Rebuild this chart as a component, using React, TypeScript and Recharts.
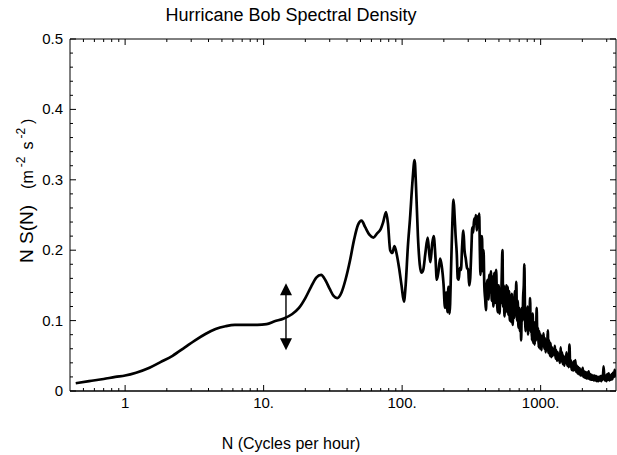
import { LineChart, Line, XAxis, YAxis, ReferenceLine, Customized } from "recharts";

// low-frequency part (smooth)
const lowFreq = [
  0.44, 0.55, 0.7, 0.85, 1, 1.2, 1.5, 1.8, 2.2, 2.7, 3.2, 3.8, 4.5, 5.3, 6.2, 7.5, 9, 10.5, 12, 14,
  16, 18, 20, 22, 24, 26, 28, 30, 32, 34, 36.5, 39, 42, 45, 48, 51, 54, 58, 62, 66,
  70, 73, 76.5, 79, 82, 85, 88, 91, 95, 99,
];
const lowVal = [
  0.011, 0.014, 0.017, 0.02, 0.022, 0.026, 0.033, 0.041, 0.05, 0.062, 0.072, 0.081, 0.088, 0.092, 0.094, 0.094, 0.094, 0.095, 0.099, 0.103,
  0.109, 0.118, 0.132, 0.148, 0.161, 0.165, 0.157, 0.145, 0.135, 0.132, 0.14, 0.158, 0.185, 0.215, 0.236, 0.242, 0.233, 0.222, 0.218, 0.224,
  0.23, 0.24, 0.254, 0.238, 0.2, 0.196, 0.206, 0.196, 0.175, 0.15,
];

// peaks around 100-500 cph
const midFreq = [
  103, 106, 110, 114, 119, 123, 126, 130, 134, 138, 142, 147, 153, 157, 160, 165, 169, 174, 178, 183,
  188, 193, 199, 204, 208, 212, 216, 220, 226, 231, 235, 239, 243, 248, 252, 256, 261, 266, 271, 277,
  282, 288, 294, 300, 305, 310, 316, 321, 326, 331, 336, 341, 346, 351, 356, 360, 364, 368, 372, 377,
  382, 387, 392, 398, 403, 408, 414, 420, 426, 432, 438, 444, 450, 456, 463, 470, 477, 484, 491, 498,
];
const midVal = [
  0.127, 0.15, 0.205, 0.245, 0.3, 0.328, 0.29, 0.22, 0.18, 0.168, 0.172, 0.195, 0.218, 0.195, 0.183, 0.21, 0.22, 0.19, 0.158, 0.17,
  0.188, 0.178, 0.152, 0.118, 0.14, 0.112, 0.148, 0.11, 0.18, 0.245, 0.272, 0.25, 0.222, 0.195, 0.16, 0.158, 0.175, 0.172, 0.205, 0.228,
  0.2, 0.188, 0.175, 0.172, 0.15, 0.16, 0.2, 0.232, 0.225, 0.245, 0.238, 0.25, 0.228, 0.248, 0.235, 0.252, 0.2, 0.165, 0.215, 0.22,
  0.17, 0.2, 0.15, 0.13, 0.115, 0.15, 0.158, 0.13, 0.165, 0.14, 0.17, 0.128, 0.162, 0.12, 0.168, 0.125, 0.172, 0.13, 0.112, 0.15,
];

// noisy high-frequency tail
const highFreq = [
  505, 512, 518, 524, 530, 536, 542, 548, 554, 560, 566, 572, 578, 585, 592, 599, 606, 613, 620, 628,
  636, 644, 652, 660, 667, 675, 683, 692, 700, 709, 717, 723, 731, 740, 748, 756, 763, 770, 778, 787,
  795, 803, 812, 821, 830, 839, 848, 857, 866, 876, 886, 896, 906, 916, 926, 936, 946, 957, 968, 979,
  990, 1002, 1014, 1026, 1038, 1050, 1062, 1074, 1087, 1100, 1113, 1126, 1139, 1152, 1166, 1180, 1194, 1208, 1222, 1237,
  1252, 1267, 1282, 1297, 1313, 1329, 1345, 1361, 1378, 1395, 1412, 1429, 1446, 1464, 1482, 1500, 1518, 1537, 1556, 1575,
  1594, 1614, 1634, 1654, 1674, 1695, 1716, 1737, 1758, 1780, 1802, 1824, 1847, 1870, 1893, 1916, 1940, 1964, 1988, 2013,
  2038, 2063, 2089, 2115, 2141, 2168, 2195, 2222, 2250, 2278, 2306, 2335, 2364, 2393, 2423, 2453, 2484, 2515, 2546, 2578,
  2610, 2642, 2675, 2708, 2742, 2776, 2810, 2845, 2880, 2916, 2952, 2989, 3026, 3064, 3102, 3140, 3179, 3219, 3259, 3299,
  3340, 3381, 3423, 3465, 3500,
];
const highVal = [
  0.11, 0.145, 0.125, 0.165, 0.2, 0.12, 0.15, 0.106, 0.14, 0.112, 0.15, 0.118, 0.148, 0.108, 0.142, 0.1, 0.135, 0.098, 0.138, 0.094,
  0.13, 0.104, 0.142, 0.12, 0.155, 0.1, 0.128, 0.09, 0.118, 0.085, 0.11, 0.072, 0.118, 0.1, 0.135, 0.15, 0.18, 0.12, 0.085, 0.11,
  0.092, 0.12, 0.08, 0.108, 0.095, 0.132, 0.084, 0.1, 0.072, 0.11, 0.068, 0.098, 0.066, 0.092, 0.072, 0.118, 0.075, 0.09, 0.062, 0.085,
  0.06, 0.08, 0.058, 0.078, 0.07, 0.082, 0.06, 0.075, 0.055, 0.07, 0.06, 0.086, 0.054, 0.072, 0.05, 0.068, 0.048, 0.062, 0.05, 0.06,
  0.052, 0.064, 0.046, 0.058, 0.043, 0.055, 0.044, 0.05, 0.04, 0.062, 0.042, 0.055, 0.038, 0.05, 0.036, 0.048, 0.04, 0.055, 0.036, 0.046,
  0.034, 0.066, 0.035, 0.044, 0.03, 0.04, 0.029, 0.042, 0.03, 0.044, 0.027, 0.036, 0.025, 0.034, 0.024, 0.032, 0.022, 0.03, 0.022, 0.033,
  0.02, 0.028, 0.019, 0.027, 0.018, 0.026, 0.018, 0.028, 0.017, 0.024, 0.016, 0.023, 0.016, 0.022, 0.015, 0.022, 0.015, 0.021, 0.014, 0.02,
  0.014, 0.02, 0.015, 0.021, 0.014, 0.022, 0.016, 0.035, 0.02, 0.015, 0.022, 0.014, 0.024, 0.016, 0.025, 0.015, 0.022, 0.016, 0.024, 0.017,
  0.026, 0.02, 0.03, 0.022, 0.028,
];

const xMajor = [1, 10, 100, 1000];
const xMajorLabels = ["1", "10.", "100.", "1000."];
const xMinor = [
  0.5, 0.6, 0.7, 0.8, 0.9, 2, 3, 4, 5, 6, 7, 8, 9, 20, 30, 40, 50, 60, 70, 80, 90,
  200, 300, 400, 500, 600, 700, 800, 900, 2000, 3000,
];
const yMajor = [0, 0.1, 0.2, 0.3, 0.4, 0.5];
const yMajorLabels = ["0", "0.1", "0.2", "0.3", "0.4", "0.5"];
const yMinor = [
  0.02, 0.04, 0.06, 0.08, 0.12, 0.14, 0.16, 0.18, 0.22, 0.24, 0.26, 0.28,
  0.32, 0.34, 0.36, 0.38, 0.42, 0.44, 0.46, 0.48,
];

// double arrow near 14.5 cph
const arrowN = 14.5;
const arrowLow = 0.058;
const arrowHigh = 0.153;

const W = 617;
const H = 455;
const PLOT_TOP = 39;
const PLOT_RIGHT = 616;
const FONT = "'Liberation Sans', Arial, Helvetica, sans-serif";

const freq = [...lowFreq, ...midFreq, ...highFreq];
const nsn = [...lowVal, ...midVal, ...highVal];
const data = freq.map((n, i) => ({ n, s: nsn[i] }));

function XTick(props: any) {
  const { x, y, payload } = props;
  const i = xMajor.indexOf(payload.value);
  const len = i >= 0 ? 6 : 3;
  return (
    <g>
      <line x1={x} y1={y} x2={x} y2={y - len} stroke="#000" strokeWidth={1} />
      <line x1={x} y1={PLOT_TOP} x2={x} y2={PLOT_TOP + len} stroke="#000" strokeWidth={1} />
      {i >= 0 && (
        <text x={x} y={y + 17} textAnchor="middle" fontSize={15} fontFamily={FONT} fill="#000">
          {xMajorLabels[i]}
        </text>
      )}
    </g>
  );
}

function YTick(props: any) {
  const { x, y, payload } = props;
  const i = yMajor.findIndex((v) => Math.abs(v - payload.value) < 1e-6);
  const len = i >= 0 ? 6 : 3;
  return (
    <g>
      <line x1={x} y1={y} x2={x + len} y2={y} stroke="#000" strokeWidth={1} />
      <line x1={PLOT_RIGHT} y1={y} x2={PLOT_RIGHT - len} y2={y} stroke="#000" strokeWidth={1} />
      {i >= 0 && (
        <text x={x - 7} y={y + 5} textAnchor="end" fontSize={15} fontFamily={FONT} fill="#000">
          {yMajorLabels[i]}
        </text>
      )}
    </g>
  );
}

function DoubleArrow(props: any) {
  const { x1, y1, x2, y2 } = props;
  const top = Math.min(y1, y2);
  const bot = Math.max(y1, y2);
  const x = x1;
  return (
    <g>
      <line x1={x} y1={top + 8} x2={x2} y2={bot - 8} stroke="#000" strokeWidth={1.4} />
      <path d={`M${x},${top} L${x - 6},${top + 12} L${x + 6},${top + 12} Z`} fill="#000" />
      <path d={`M${x},${bot} L${x - 6},${bot - 12} L${x + 6},${bot - 12} Z`} fill="#000" />
    </g>
  );
}

function Texts() {
  return (
    <g fontFamily={FONT} fill="#000">
      <text x={291} y={21} textAnchor="middle" fontSize={18}>
        Hurricane Bob Spectral Density
      </text>
      <text x={291} y={449} textAnchor="middle" fontSize={16}>
        N (Cycles per hour)
      </text>
      <text x={33} y={263} transform="rotate(-90, 33, 263)" textAnchor="start" fontSize={19}>
        <tspan>N S(N)</tspan>
        <tspan dx={16} fontSize={16}>(m</tspan>
        <tspan dx={3} dy={-8} fontSize={12}>-2</tspan>
        <tspan dx={7} dy={8} fontSize={16}>s</tspan>
        <tspan dx={3} dy={-8} fontSize={12}>-2</tspan>
        <tspan dx={4} dy={8} fontSize={16}>)</tspan>
      </text>
    </g>
  );
}

export default function App() {
  return (
    <div style={{ position: "absolute", left: 0, top: 0, width: W, height: H, background: "#fff" }}>
      <LineChart width={W} height={H} data={data} margin={{ top: PLOT_TOP, right: W - PLOT_RIGHT, left: 0, bottom: 0 }}>
        <XAxis
          dataKey="n"
          type="number"
          scale="log"
          domain={[0.4, 3500]}
          allowDataOverflow
          ticks={[...xMajor, ...xMinor]}
          interval={0}
          tickSize={0}
          tickMargin={0}
          tickLine={false}
          tick={(p: any) => <XTick {...p} />}
          axisLine={{ stroke: "#000", strokeWidth: 1.5 }}
          height={64}
        />
        <YAxis
          type="number"
          domain={[0, 0.5]}
          allowDataOverflow
          ticks={[...yMajor, ...yMinor]}
          interval={0}
          tickSize={0}
          tickMargin={0}
          tickLine={false}
          tick={(p: any) => <YTick {...p} />}
          axisLine={{ stroke: "#000", strokeWidth: 1 }}
          width={70}
        />
        <ReferenceLine y={0.5} stroke="#000" strokeWidth={1} />
        <ReferenceLine x={3500} stroke="#000" strokeWidth={1} />
        <Line
          dataKey="s"
          type="monotone"
          stroke="#000"
          strokeWidth={2.7}
          dot={false}
          isAnimationActive={false}
        />
        <ReferenceLine
          segment={[
            { x: arrowN, y: arrowLow },
            { x: arrowN, y: arrowHigh },
          ]}
          shape={(p: any) => <DoubleArrow {...p} />}
        />
        <Customized component={Texts} />
      </LineChart>
    </div>
  );
}
